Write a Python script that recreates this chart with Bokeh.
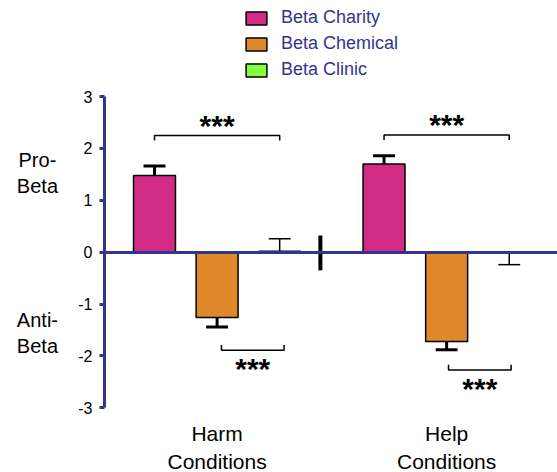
from bokeh.plotting import figure
from bokeh.models import Range1d, LinearAxis, FixedTicker, Legend, LegendItem
from bokeh.core.properties import value
from bokeh.embed import file_html
from bokeh.resources import INLINE

# ---- data ----
conditions = ["Harm\nConditions", "Help\nConditions"]
series = ["Beta Charity", "Beta Chemical", "Beta Clinic"]
charity = [1.48, 1.70]
charity_err = [0.18, 0.16]
chemical = [-1.26, -1.72]
chemical_err = [0.18, 0.16]
clinic = [0.02, -0.02]
clinic_err = [0.24, 0.22]
y_ticks = [-3, -2, -1, 0, 1, 2, 3]
side_labels = ["Pro-\nBeta", "Anti-\nBeta"]
side_label_y = [1.53, -1.56]
top_bracket_y = [2.25, 2.26]
bottom_bracket_y = [-1.89, -2.27]
star_text = "***"

# ---- style / layout ----
NAVY = "#34348c"
COLORS = ["#d12b85", "#e0892b", "#80ff3c"]
FONT = value("Liberation Sans")
group_centers = [2.0, 5.667]
offsets = [-1.0, 0.0, 1.0]
bar_w = 0.67
cap_w = 0.35
axis_x = 0.2
sep_x = 3.65
X0, X1 = -1.460, 7.438
Y0, Y1 = -4.245, 4.850

p = figure(width=557, height=472, output_backend="svg", toolbar_location=None,
           x_range=Range1d(X0, X1), y_range=Range1d(Y0, Y1),
           x_axis_location=None, y_axis_location=None, min_border=0)
p.grid.visible = False
p.outline_line_color = None

values = [charity, chemical, clinic]
errs = [charity_err, chemical_err, clinic_err]
err_widths = [3, 3, 1.5]
renderers = []
for si, (vals, ers) in enumerate(zip(values, errs)):
    xs = [g + offsets[si] for g in group_centers]
    r = p.vbar(x=xs, top=vals, bottom=0, width=bar_w, fill_color=COLORS[si],
               line_color="black", line_width=1.5)
    renderers.append(r)
    ends = [v + (e if v >= 0 else -e) for v, e in zip(vals, ers)]
    p.segment(x0=xs, y0=vals, x1=xs, y1=ends, line_color="black", line_width=err_widths[si])
    p.segment(x0=[x - cap_w / 2 for x in xs], y0=ends, x1=[x + cap_w / 2 for x in xs], y1=ends,
              line_color="black", line_width=err_widths[si])

# significance brackets
tick_len = 0.1
for gi, g in enumerate(group_centers):
    # top bracket: charity vs clinic
    xa, xb = g + offsets[0], g + offsets[2]
    yb = top_bracket_y[gi]
    p.line(x=[xa, xa, xb, xb], y=[yb - tick_len, yb, yb, yb - tick_len], line_color="black", line_width=1.5)
    p.text(x=[(xa + xb) / 2], y=[yb + 0.2], text=[star_text], text_font=FONT, text_font_style="bold",
           text_font_size="30px", text_align="center", text_baseline="middle", text_color="black")
    # bottom bracket: chemical vs clinic
    sh = 0.07 if gi == 0 else 0.03
    xa, xb = g + offsets[1] + sh, g + offsets[2] + sh
    yb = bottom_bracket_y[gi]
    p.line(x=[xa, xa, xb, xb], y=[yb + tick_len, yb, yb, yb + tick_len], line_color="black", line_width=1.5)
    p.text(x=[(xa + xb) / 2], y=[yb - 0.36], text=[star_text], text_font=FONT, text_font_style="bold",
           text_font_size="30px", text_align="center", text_baseline="middle", text_color="black")

# group separator
p.segment(x0=[sep_x], y0=[0.32], x1=[sep_x], y1=[-0.35], line_color="black", line_width=4)

# condition labels
p.text(x=group_centers, y=[-3.28, -3.28], text=conditions, text_font=FONT, text_font_size="21px",
       text_line_height=1.22, text_align="center", text_baseline="top", text_color="black")
# side labels
p.text(x=[-0.87, -0.87], y=side_label_y, text=side_labels, text_font=FONT, text_font_size="20px",
       text_align="center", text_baseline="middle", text_color="black")

# axes
yaxis = LinearAxis(fixed_location=axis_x, bounds=(-3, 3), ticker=FixedTicker(ticks=y_ticks))
yaxis.major_label_overrides = {t: str(t) for t in y_ticks}
yaxis.axis_line_color = NAVY
yaxis.axis_line_width = 3
yaxis.major_tick_line_color = NAVY
yaxis.major_tick_line_width = 3
yaxis.major_tick_out = 5
yaxis.major_tick_in = 0
yaxis.minor_tick_line_color = None
yaxis.major_label_text_font = "Liberation Sans"
yaxis.major_label_text_font_size = "16px"
yaxis.major_label_text_color = "black"
yaxis.major_label_standoff = 7
p.add_layout(yaxis, "left")

xaxis = LinearAxis(fixed_location=0, bounds=(axis_x, X1), ticker=FixedTicker(ticks=[]))
xaxis.axis_line_color = NAVY
xaxis.axis_line_width = 3
xaxis.major_tick_line_color = None
xaxis.minor_tick_line_color = None
xaxis.major_label_text_font_size = "0px"
p.add_layout(xaxis, "below")

legend = Legend(items=[LegendItem(label=s, renderers=[r]) for s, r in zip(series, renderers)],
                location=(243, 392))
legend.border_line_color = None
legend.background_fill_alpha = 0
legend.padding = 0
legend.margin = 0
legend.spacing = 5
legend.glyph_width = 26
legend.glyph_height = 16
legend.label_height = 16
legend.label_standoff = 12
legend.label_text_font = "Liberation Sans"
legend.label_text_font_size = "18px"
legend.label_text_color = NAVY
p.add_layout(legend)

open("out.html", "w").write(file_html(p, INLINE))
